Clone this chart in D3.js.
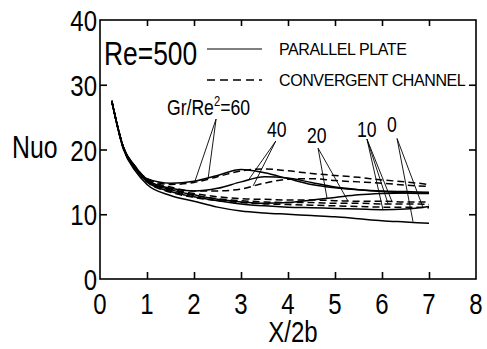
<!DOCTYPE html>
<html>
<head>
<meta charset="utf-8">
<script src="https://cdn.jsdelivr.net/npm/d3@7"></script>
<style>
  body { margin: 0; background: #fff; }
  svg { display: block; }
</style>
</head>
<body>
<script>
// canvas
const canvWidth = 487, canvHeight = 349;
const margin = {top: 20, right: 11, bottom: 70, left: 100};
const width = canvWidth - margin.left - margin.right;
const height = canvHeight - margin.top - margin.bottom;

const fontFam = "'Liberation Sans', Arial, sans-serif";
const squeeze = 0.8; // the original uses a condensed face

// data
const xPos = [0.25, 0.5, 0.75, 1, 1.5, 2, 2.5, 3, 3.5, 4, 4.5, 5, 5.5, 6, 6.5, 7];
const grValues = [0, 10, 20, 40, 60];

const parallel0  = [27.5, 20.0, 16.7, 14.6, 12.9, 12.0, 11.1, 10.5, 10.2, 10.0, 9.8, 9.6, 9.3, 9.0, 8.8, 8.6];
const parallel10 = [27.5, 20.2, 17.0, 15.0, 13.5, 12.7, 12.1, 11.6, 11.3, 11.1, 11.0, 10.9, 10.8, 10.7, 10.8, 11.2];
const parallel20 = [27.5, 20.2, 17.1, 15.1, 13.8, 13.0, 12.3, 11.9, 11.7, 11.8, 12.2, 12.6, 13.0, 13.2, 13.3, 13.3];
const parallel40 = [27.5, 20.3, 17.3, 15.3, 14.0, 13.6, 14.0, 15.0, 15.8, 15.6, 14.9, 14.2, 13.8, 13.5, 13.3, 13.2];
const parallel60 = [27.5, 20.3, 17.4, 15.5, 14.8, 15.1, 16.0, 16.9, 16.4, 15.5, 14.6, 14.1, 13.8, 13.6, 13.5, 13.4];

const convergent0  = [27.5, 20.2, 17.0, 15.0, 13.4, 12.6, 12.1, 11.8, 11.6, 11.5, 11.4, 11.3, 11.2, 11.1, 11.1, 11.0];
const convergent10 = [27.5, 20.2, 17.1, 15.1, 13.7, 12.9, 12.4, 12.1, 11.9, 11.8, 11.8, 11.7, 11.7, 11.6, 11.6, 11.5];
const convergent20 = [27.5, 20.3, 17.2, 15.2, 13.9, 13.2, 12.7, 12.4, 12.3, 12.2, 12.2, 12.1, 12.0, 12.0, 11.9, 11.9];
const convergent40 = [27.5, 20.3, 17.3, 15.4, 14.2, 13.6, 13.6, 13.9, 14.8, 15.4, 15.5, 15.2, 15.0, 14.8, 14.5, 14.3];
const convergent60 = [27.5, 20.3, 17.4, 15.5, 14.6, 14.9, 15.8, 16.7, 17.0, 16.7, 16.3, 16.0, 15.7, 15.3, 15.0, 14.6];

const parallelSeries = [parallel0, parallel10, parallel20, parallel40, parallel60];
const convergentSeries = [convergent0, convergent10, convergent20, convergent40, convergent60];

const xTicks = [0, 1, 2, 3, 4, 5, 6, 7, 8];
const yTicks = [0, 10, 20, 30, 40];

// annotation leaders: label text, start point and end points in data units
const leaderLabels = ["Gr/Re2=60", "40", "20", "10", "0"];
const leaderStarts = [[2.47, 24.7], [3.74, 21.3], [4.64, 20.2], [5.68, 21.6], [6.32, 21.7]];
const leaderEnds = [
    [[2.02, 15.1], [2.30, 15.5]],
    [[3.15, 15.2], [3.26, 14.4]],
    [[4.83, 12.5], [5.28, 12.0]],
    [[6.02, 10.7], [6.13, 11.6], [6.21, 12.0]],
    [[6.66, 8.85], [6.87, 11.1]]
];

const svg = d3.select("body").append("svg")
    .attr("width", canvWidth)
    .attr("height", canvHeight);

const g = svg.append("g")
    .attr("transform", "translate(" + margin.left + "," + margin.top + ")");

const xScale = d3.scaleLinear().domain([0, 8]).range([0, width]);
const yScale = d3.scaleLinear().domain([0, 40]).range([height, 0]);

// condensed text helper
function condText(parent, x, y, size, anchor) {
    return parent.append("text")
        .attr("transform", "translate(" + x + "," + y + ") scale(" + squeeze + ",1)")
        .attr("text-anchor", anchor || "start")
        .attr("font-family", fontFam)
        .attr("font-size", size);
}

// frame
g.append("rect")
    .attr("width", width)
    .attr("height", height)
    .attr("fill", "none")
    .attr("stroke", "black")
    .attr("stroke-width", 1.6);

// inward ticks on all four sides
function styleAxis(sel) {
    sel.select(".domain").remove();
    sel.selectAll(".tick line").attr("stroke", "black").attr("stroke-width", 1.6);
}
g.append("g").attr("transform", "translate(0," + height + ")")
    .call(d3.axisTop(xScale).tickValues(xTicks.slice(1, -1)).tickSize(7).tickFormat(""))
    .call(styleAxis);
g.append("g")
    .call(d3.axisBottom(xScale).tickValues(xTicks.slice(1, -1)).tickSize(6).tickFormat(""))
    .call(styleAxis);
g.append("g")
    .call(d3.axisRight(yScale).tickValues(yTicks.slice(1, -1)).tickSize(7).tickFormat(""))
    .call(styleAxis);
g.append("g").attr("transform", "translate(" + width + ",0)")
    .call(d3.axisLeft(yScale).tickValues(yTicks.slice(1, -1)).tickSize(7).tickFormat(""))
    .call(styleAxis);

// tick labels
xTicks.forEach(d => condText(g, xScale(d), height + 35, 30, "middle").text(d));
yTicks.forEach(d => condText(g, -3, yScale(d) + 11, 30, "end").text(d));

// axis titles
condText(svg, 293, 342, 30, "middle").text("X/2b");
condText(svg, 12, 158, 31).text("Nuo");

// curves
const line = d3.line()
    .x((d, i) => xScale(xPos[i]))
    .y(d => yScale(d))
    .curve(d3.curveMonotoneX);

g.selectAll(".parallel").data(parallelSeries).join("path")
    .attr("class", "parallel")
    .attr("d", line)
    .attr("fill", "none")
    .attr("stroke", "black")
    .attr("stroke-width", 1.5);

g.selectAll(".convergent").data(convergentSeries).join("path")
    .attr("class", "convergent")
    .attr("d", line)
    .attr("fill", "none")
    .attr("stroke", "black")
    .attr("stroke-width", 1.5)
    .attr("stroke-dasharray", "7,4");

// leaders and their labels
leaderEnds.forEach((ends, i) => {
    ends.forEach(e => {
        g.append("line")
            .attr("x1", xScale(leaderStarts[i][0])).attr("y1", yScale(leaderStarts[i][1]))
            .attr("x2", xScale(e[0])).attr("y2", yScale(e[1]))
            .attr("stroke", "black")
            .attr("stroke-width", 0.9);
    });
});

const labelAt = [[167, 115], [267, 137], [307, 143], [357, 137], [387, 132]];
leaderLabels.forEach((t, i) => {
    const txt = condText(svg, labelAt[i][0], labelAt[i][1], 22);
    if (t.startsWith("Gr")) {
        txt.append("tspan").text("Gr/Re");
        txt.append("tspan").attr("font-size", 14).attr("dy", -9).text("2");
        txt.append("tspan").attr("dy", 9).text("=60");
    } else {
        txt.text(t);
    }
});

// title and legend
condText(svg, 104, 65, 33).text("Re=500");

const legendNames = ["PARALLEL PLATE", "CONVERGENT CHANNEL"];
const legend = svg.append("g");
legendNames.forEach((name, i) => {
    const ly = 49 + i * 31;
    legend.append("line")
        .attr("x1", 207).attr("x2", 262)
        .attr("y1", ly).attr("y2", ly)
        .attr("stroke", "black")
        .attr("stroke-width", i === 0 ? 1.1 : 1.5)
        .attr("stroke-dasharray", i === 0 ? null : "8,5");
    legend.append("text")
        .attr("x", 279).attr("y", ly + 6)
        .attr("font-family", fontFam)
        .attr("font-size", 16)
        .attr("letter-spacing", -0.4)
        .text(name);
});
</script>
</body>
</html>
